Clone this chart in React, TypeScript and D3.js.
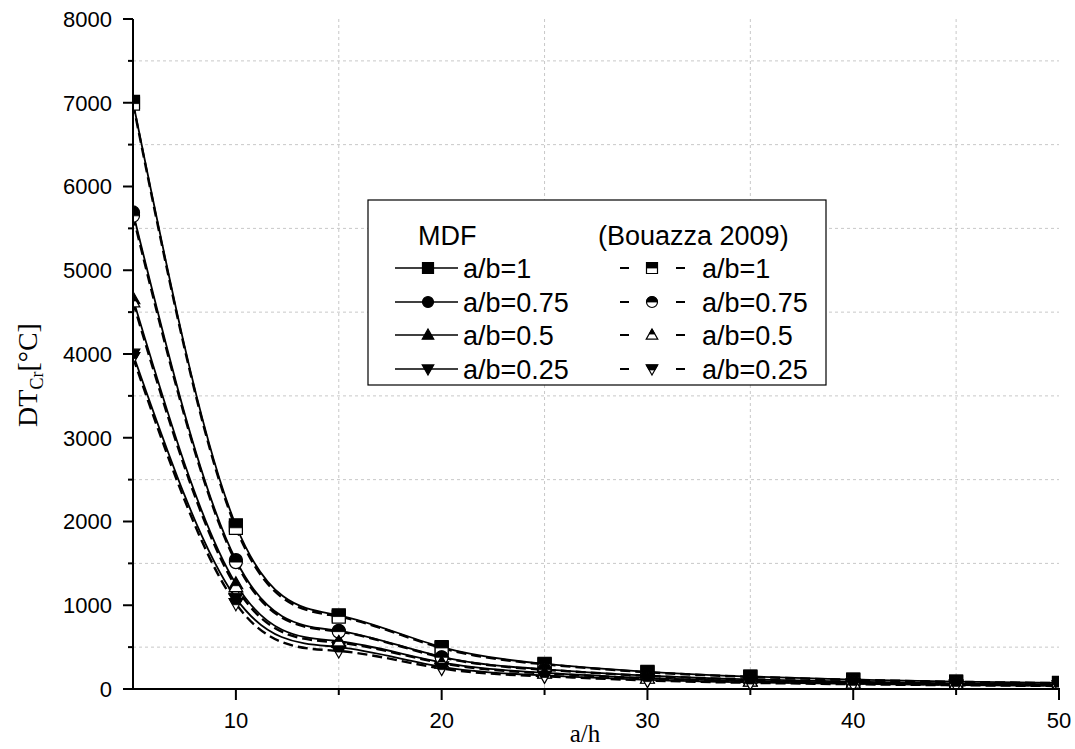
import React from "react";
import * as d3 from "d3";

const aH = [5, 10, 15, 20, 25, 30, 35, 40, 45, 50];
const mdf1 = [7010, 1955, 880, 500, 300, 205, 148, 112, 88, 72];
const mdf075 = [5690, 1540, 695, 385, 235, 160, 115, 88, 68, 54];
const mdf05 = [4660, 1255, 570, 318, 192, 130, 94, 72, 56, 46];
const mdf025 = [4000, 1085, 500, 265, 162, 108, 78, 60, 47, 38];
const bou1 = [6990, 1925, 865, 490, 295, 200, 145, 110, 86, 70];
const bou075 = [5650, 1515, 685, 378, 230, 157, 112, 86, 66, 52];
const bou05 = [4620, 1220, 555, 308, 187, 127, 92, 70, 55, 45];
const bou025 = [3960, 1020, 455, 245, 152, 102, 74, 57, 45, 36];
const yTicks = [0, 1000, 2000, 3000, 4000, 5000, 6000, 7000, 8000];
const xTicks = [10, 20, 30, 40, 50];
const legendLabels = ["a/b=1", "a/b=0.75", "a/b=0.5", "a/b=0.25"];
const shapes = ["square", "circle", "up", "down"];

const L = 133, R = 1059, T = 19, B = 689;
const x = d3.scaleLinear().domain([5, 50]).range([L, R]);
const y = d3.scaleLinear().domain([0, 8000]).range([B, T]);

function shapePath(shape: string, s: number): string {
  const h = s / 2;
  if (shape === "square") return `M${-h},${-h}H${h}V${h}H${-h}Z`;
  if (shape === "circle") return `M${-h},0A${h},${h} 0 1,1 ${h},0A${h},${h} 0 1,1 ${-h},0Z`;
  if (shape === "up") return `M0,${-h * 1.1}L${h * 1.05},${h * 0.75}L${-h * 1.05},${h * 0.75}Z`;
  return `M0,${h * 1.1}L${h * 1.05},${-h * 0.75}L${-h * 1.05},${-h * 0.75}Z`;
}
function topHalfPath(shape: string, s: number): string {
  const h = s / 2;
  if (shape === "square") return `M${-h},${-h}H${h}V0H${-h}Z`;
  if (shape === "circle") return `M${-h},0A${h},${h} 0 0,1 ${h},0Z`;
  if (shape === "up") {
    const midY = (-h * 1.1 + h * 0.75) / 2;
    const w = (h * 1.05) * ((midY + h * 1.1) / (h * 1.85));
    return `M0,${-h * 1.1}L${w},${midY}L${-w},${midY}Z`;
  }
  const midY = (h * 1.1 - h * 0.75) / 2;
  const w = (h * 1.05) * ((h * 1.1 - midY) / (h * 1.85));
  return `M${-h * 1.05},${-h * 0.75}L${h * 1.05},${-h * 0.75}L${w},${midY}L${-w},${midY}Z`;
}

function Marker({ shape, cx, cy, size, half }: { shape: string; cx: number; cy: number; size: number; half: boolean }) {
  return (
    <g transform={`translate(${cx},${cy})`}>
      <path d={shapePath(shape, size)} fill={half ? "#fff" : "#000"} stroke="#000" strokeWidth={1.2} />
      {half && <path d={topHalfPath(shape, size)} fill="#000" stroke="#000" strokeWidth={0.8} />}
    </g>
  );
}

export default function App() {
  const mdf = [mdf1, mdf075, mdf05, mdf025];
  const bou = [bou1, bou075, bou05, bou025];
  const line = d3
    .line<number>()
    .x((_, i) => x(aH[i]))
    .y((d) => y(d))
    .curve(d3.curveNatural);
  const gridY = d3.range(500, 8000, 1000);
  const gridX = [15, 25, 35, 45];
  const minorY = d3.range(500, 8000, 1000);
  const minorX = [15, 25, 35, 45];
  const sans = "Arial, 'Liberation Sans', sans-serif";
  const serif = "'Times New Roman', 'Liberation Serif', serif";
  const rows = [268, 302, 335, 369];
  return (
    <svg width={1075} height={749} style={{ position: "absolute", left: 0, top: 0, background: "#fff" }}>
      <defs>
        <clipPath id="plot">
          <rect x={L} y={T - 10} width={R - L} height={B - T + 10} />
        </clipPath>
      </defs>
      <rect width={1075} height={749} fill="#fff" />
      {gridY.map((v) => (
        <line key={"gy" + v} x1={L} x2={R} y1={y(v)} y2={y(v)} stroke="#c8c8c8" strokeWidth={1} strokeDasharray="3,3" />
      ))}
      {gridX.map((v) => (
        <line key={"gx" + v} x1={x(v)} x2={x(v)} y1={T} y2={B} stroke="#c8c8c8" strokeWidth={1} strokeDasharray="3,3" />
      ))}
      <g clipPath="url(#plot)">
        {mdf.map((s, k) => (
          <path key={"m" + k} d={line(s) || ""} fill="none" stroke="#000" strokeWidth={1.8} />
        ))}
        {bou.map((s, k) => (
          <path key={"b" + k} d={line(s) || ""} fill="none" stroke="#000" strokeWidth={2.4} strokeDasharray="10,5" />
        ))}
        {mdf.map((s, k) =>
          s.map((v, i) => <Marker key={"mm" + k + "-" + i} shape={shapes[k]} cx={x(aH[i])} cy={y(v)} size={13} half={false} />)
        )}
        {bou.map((s, k) =>
          s.map((v, i) => <Marker key={"bm" + k + "-" + i} shape={shapes[k]} cx={x(aH[i])} cy={y(v)} size={13} half={true} />)
        )}
      </g>
      <line x1={L} x2={L} y1={T} y2={B + 1} stroke="#000" strokeWidth={2} />
      <line x1={L - 1} x2={R + 1} y1={B} y2={B} stroke="#000" strokeWidth={2} />
      {yTicks.map((v) => (
        <g key={"yt" + v}>
          <line x1={L - 10} x2={L} y1={y(v)} y2={y(v)} stroke="#000" strokeWidth={2} />
          <text x={L - 21} y={y(v)} dy="0.36em" textAnchor="end" fontFamily={sans} fontSize={22}>
            {v}
          </text>
        </g>
      ))}
      {minorY.map((v) => (
        <line key={"ym" + v} x1={L - 5} x2={L} y1={y(v)} y2={y(v)} stroke="#000" strokeWidth={2} />
      ))}
      {xTicks.map((v) => (
        <g key={"xt" + v}>
          <line x1={x(v)} x2={x(v)} y1={B} y2={B + 11} stroke="#000" strokeWidth={2} />
          <text x={x(v)} y={728} textAnchor="middle" fontFamily={sans} fontSize={22}>
            {v}
          </text>
        </g>
      ))}
      {minorX.map((v) => (
        <line key={"xm" + v} x1={x(v)} x2={x(v)} y1={B} y2={B + 6} stroke="#000" strokeWidth={2} />
      ))}
      <text x={585} y={742} textAnchor="middle" fontFamily={serif} fontSize={25}>
        a/h
      </text>
      <text transform={`translate(37,375) rotate(-90)`} textAnchor="middle" fontFamily={serif} fontSize={28}>
        DT
        <tspan fontSize={18} dy={6}>Cr</tspan>
        <tspan dy={-6}>[°C]</tspan>
      </text>
      <rect x={368} y={200} width={458} height={185} fill="#fff" stroke="#000" strokeWidth={1.2} />
      <text x={418} y={235} dy="0.36em" fontFamily={sans} fontSize={27}>MDF</text>
      <text x={598} y={235} dy="0.36em" fontFamily={sans} fontSize={27}>(Bouazza 2009)</text>
      {legendLabels.map((lab, k) => (
        <g key={"lg" + k}>
          <line x1={395} x2={458} y1={rows[k]} y2={rows[k]} stroke="#000" strokeWidth={1.5} />
          <Marker shape={shapes[k]} cx={428} cy={rows[k]} size={11} half={false} />
          <text x={463} y={rows[k]} dy="0.36em" fontFamily={sans} fontSize={27}>{lab}</text>
          <line x1={620} x2={629} y1={rows[k]} y2={rows[k]} stroke="#000" strokeWidth={2} />
          <Marker shape={shapes[k]} cx={652} cy={rows[k]} size={11} half={true} />
          <line x1={676} x2={685} y1={rows[k]} y2={rows[k]} stroke="#000" strokeWidth={2} />
          <text x={702} y={rows[k]} dy="0.36em" fontFamily={sans} fontSize={27}>{lab}</text>
        </g>
      ))}
    </svg>
  );
}
